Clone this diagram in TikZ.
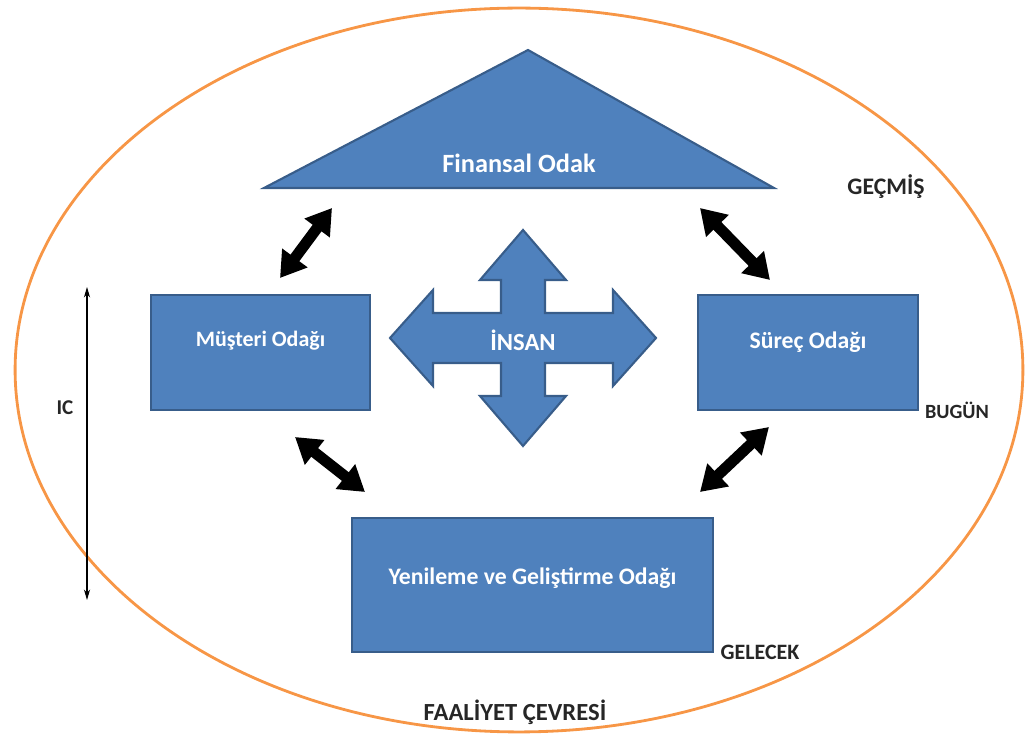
\documentclass[tikz,border=0pt]{standalone}
\usepackage{fontspec}
\setmainfont{Carlito}
\usetikzlibrary{calc,positioning,arrows.meta}
\definecolor{boxblue}{RGB}{79,129,189}
\definecolor{boxline}{RGB}{56,93,138}
\definecolor{rimorange}{RGB}{247,150,70}

\begin{document}
\begin{tikzpicture}[x=0.02cm, y=-0.02cm, lbl/.style={text=black!85}, wlbl/.style={text=white}]
\tikzstyle{focus}=[draw=boxline, line width=1.2pt, fill=boxblue, inner sep=0pt]
\tikzstyle{dbl}=[line width=0.22cm, {Triangle[width=0.6cm,length=0.5cm]}-{Triangle[width=0.6cm,length=0.5cm]}]
\useasboundingbox (0,0) rectangle (1025,749);
\draw[rimorange, line width=1.6pt] (519,370) ellipse [x radius=10.08cm, y radius=7.24cm];
% financial roof and the three focus boxes
\filldraw[focus] (528,50) -- (774,188) -- (264,188) -- cycle;
\node[wlbl, font=\bfseries\fontsize{15}{18}\selectfont] (fin) at (519,163) {Finansal Odak};
\node[focus, minimum width=4.38cm, minimum height=2.3cm] (mus) at (260.5,352.5) {};
\node[focus, minimum width=4.4cm, minimum height=2.3cm] (sur) at (808,352.5) {};
\node[focus, minimum width=7.22cm, minimum height=2.68cm] (yen) at (532.5,585) {};
\node[wlbl, font=\bfseries\fontsize{12.5}{15}\selectfont] (mustxt) at ([yshift=0.24cm]mus) {Müşteri Odağı};
\node[wlbl, font=\bfseries\fontsize{13.5}{16}\selectfont] (surtxt) at ([yshift=0.2cm]sur) {Süreç Odağı};
\node[wlbl, font=\bfseries\fontsize{13.5}{16}\selectfont] (yentxt) at ([yshift=0.14cm]yen) {Yenileme ve Geliştirme Odağı};
% four way arrow
\filldraw[focus, shift={(523,338)}] (0,-108) -- (43,-58) -- (22,-58) -- (22,-25) -- (90,-25) -- (90,-48) -- (133,0)
  -- (90,48) -- (90,25) -- (22,25) -- (22,58) -- (43,58) -- (0,108) -- (-43,58) -- (-22,58) -- (-22,25)
  -- (-90,25) -- (-90,48) -- (-133,0) -- (-90,-48) -- (-90,-25) -- (-22,-25) -- (-22,-58) -- (-43,-58) -- cycle;
\node[wlbl, font=\bfseries\fontsize{14}{17}\selectfont] (insan) at (523,340) {İNSAN};
% double arrows between the foci
\coordinate (fm1) at (332,208); \coordinate (fm2) at (280,278);
\coordinate (fs1) at (700,208); \coordinate (fs2) at (770,280);
\coordinate (my1) at (295,437); \coordinate (my2) at (365,492);
\coordinate (sy1) at (769,427); \coordinate (sy2) at (700,492);
\foreach \a/\b in {fm1/fm2,fs1/fs2,my1/my2,sy1/sy2}{\draw[dbl] (\a) -- (\b);}
% IC axis
\coordinate (ictop) at (87,287); \coordinate (icbot) at (87,600);
\draw[line width=0.6pt, {Stealth[length=6pt,width=3.5pt]}-{Stealth[length=6pt,width=3.5pt]}] (ictop) -- (icbot);
\node[lbl, font=\bfseries\fontsize{12}{14}\selectfont] (ic) at (65,408) {IC};
% time labels
\node[lbl, font=\bfseries\fontsize{13.5}{16}\selectfont] (gecmis) at (886,187) {GEÇMİŞ};
\node[lbl, font=\bfseries\fontsize{11.5}{14}\selectfont] (bugun) at (957,410) {BUGÜN};
\node[lbl, font=\bfseries\fontsize{12.5}{15}\selectfont] (gelecek) at (760,652) {GELECEK};
\node[lbl, font=\bfseries\fontsize{14}{17}\selectfont] (faal) at (515,712) {FAALİYET ÇEVRESİ};
\end{tikzpicture}
\end{document}
